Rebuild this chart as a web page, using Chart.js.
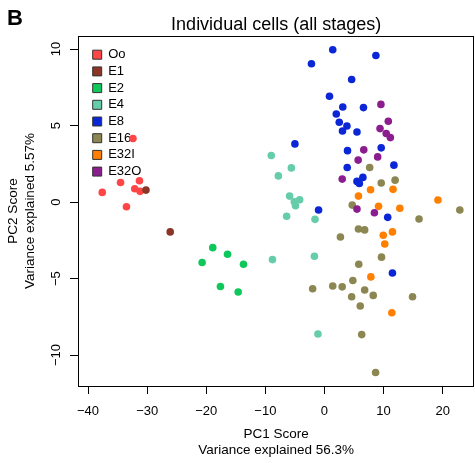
<!DOCTYPE html>
<html><head><meta charset="utf-8">
<script src="https://cdn.jsdelivr.net/npm/chart.js@4/dist/chart.umd.min.js"></script>
<style>html,body{margin:0;padding:0;background:#fff}canvas{display:block}</style>
</head><body>
<canvas id="c" width="475" height="463"></canvas>
<script>
// ---- data (PC1, PC2 scores per stage) ----
const stages = ['Oo', 'E1', 'E2', 'E4', 'E8', 'E16', 'E32I', 'E32O'];

const ooPC1 = [-37.6, -34.5, -31.3, -32.1, -31.2, -33.5, -32.4];
const ooPC2 = [0.63, 1.28, 1.39, 0.87, 0.70, -0.31, 4.15];

const e1PC1 = [-30.2, -26.1];
const e1PC2 = [0.78, -1.95];

const e2PC1 = [-18.9, -16.4, -20.7, -13.7, -17.6, -14.6];
const e2PC2 = [-2.98, -3.41, -3.95, -4.06, -5.52, -5.88];

const e4PC1 = [-9.0, -5.6, -7.8, -5.9, -5.1, -4.2, -4.9, -6.4, -1.6, -8.8, -1.7, -1.1];
const e4PC2 = [3.04, 2.23, 1.71, 0.39, 0.02, 0.15, -0.24, -0.93, -1.13, -3.76, -3.54, -8.62];

const e8PC1 = [1.4, 8.7, -2.2, 4.6, 0.85, 3.1, 6.6, 2.0, 2.5, 3.8, 3.05, 5.5, -5.0, 9.6, 3.9, 3.85, 11.75, 6.5, 5.5, 5.9, -1.0, 10.7, 11.5];
const e8PC2 = [9.95, 9.58, 9.04, 8.01, 6.91, 6.21, 6.17, 5.75, 5.21, 4.97, 4.64, 4.58, 3.80, 3.54, 3.36, 2.26, 2.41, 1.61, 1.35, 1.22, -0.52, -1.00, -4.64];

const e16PC1 = [7.65, 11.95, 9.6, 4.7, 22.9, 16.0, 5.75, 6.8, 2.7, 9.65, 5.8, 4.8, -2.0, 1.4, 3.0, 6.8, 4.6, 8.25, 14.9, 6.05, 6.3, 8.65];
const e16PC2 = [2.26, 1.43, 1.24, -0.20, -0.52, -1.11, -1.76, -1.82, -2.28, -3.60, -4.06, -5.13, -5.67, -5.49, -5.54, -5.75, -6.19, -6.10, -6.19, -6.79, -8.66, -11.14];

const e32iPC1 = [7.8, 11.6, 5.75, 19.2, 9.15, 12.75, 11.5, 9.95, 10.2, 7.85, 11.4];
const e32iPC2 = [0.80, 0.83, 0.39, 0.13, -0.28, -0.41, -1.95, -2.17, -2.74, -4.89, -7.23];

const e32oPC1 = [9.55, 10.8, 9.4, 10.45, 11.15, 6.65, 9.0, 5.7, 3.0, 5.5, 8.45];
const e32oPC2 = [6.38, 5.28, 4.80, 4.48, 4.21, 3.41, 2.95, 2.74, 1.50, -0.46, -0.70];

const xTicks = [-40, -30, -20, -10, 0, 10, 20];
const yTicks = [-10, -5, 0, 5, 10];

const chartTitle = 'Individual cells (all stages)';
const panelLetter = 'B';

// ---- styling ----
const stageColors = ['#FF4545', '#8B3526', '#0FC85C', '#66CDAA', '#0A26D6', '#8C8752', '#FF7F00', '#8B1D8E'];
const FONT = "'Liberation Sans', Arial, Helvetica, sans-serif";

const seriesX = [ooPC1, e1PC1, e2PC1, e4PC1, e8PC1, e16PC1, e32iPC1, e32oPC1];
const seriesY = [ooPC2, e1PC2, e2PC2, e4PC2, e8PC2, e16PC2, e32iPC2, e32oPC2];

const datasets = stages.map((name, i) => ({
  label: name,
  data: seriesX[i].map((x, k) => ({x: x, y: seriesY[i][k]})),
  backgroundColor: stageColors[i],
  borderColor: stageColors[i],
  borderWidth: 0,
  pointRadius: 3.8,
  pointHoverRadius: 3.8,
  order: -i
}));

const minus = v => String(v).replace('-', '\u2212');

const boxPlugin = {
  id: 'boxPlugin',
  afterLayout(chart) {
    const lg = chart.legend;
    const a = chart.chartArea;
    if (lg) {
      const w = lg.right - lg.left, h = lg.bottom - lg.top;
      lg.left = a.left + 11; lg.right = lg.left + w;
      lg.top = a.top + 8.5; lg.bottom = lg.top + h;
    }
  },
  afterDatasetsDraw(chart) {
    const {ctx, chartArea: a} = chart;
    ctx.save();
    ctx.strokeStyle = '#000';
    ctx.lineWidth = 1;
    ctx.strokeRect(Math.round(a.left) + 0.5, Math.round(a.top) + 0.5, Math.round(a.right - a.left) - 1, Math.round(a.bottom - a.top));
    ctx.restore();
  },
  afterDraw(chart) {
    const ctx = chart.ctx;
    const a = chart.chartArea;
    ctx.save();
    ctx.fillStyle = '#000';
    ctx.textBaseline = 'alphabetic';
    ctx.font = 'bold 22px ' + FONT;
    ctx.textAlign = 'left';
    ctx.fillText(panelLetter, 7, 25);
    ctx.font = '18px ' + FONT;
    ctx.textAlign = 'center';
    ctx.fillText(chartTitle, (a.left + a.right) / 2, 29.5);
    ctx.restore();
  }
};

new Chart(document.getElementById('c'), {
  type: 'scatter',
  data: {datasets: datasets},
  plugins: [boxPlugin],
  options: {
    responsive: false,
    animation: false,
    devicePixelRatio: 1,
    layout: {autoPadding: false, padding: {left: 0, right: 0.7, top: 36, bottom: 0}},
    plugins: {
      tooltip: {enabled: false},
      title: {display: false},
      legend: {
        position: 'chartArea',
        align: 'start',
        labels: {
          boxWidth: 9,
          boxHeight: 9,
          padding: 3.7,
          color: '#000',
          font: {family: FONT, size: 13},
          generateLabels: chart => chart.data.datasets.map((d, i) => ({
            text: d.label,
            fillStyle: d.backgroundColor,
            strokeStyle: '#333',
            lineWidth: 1,
            hidden: false,
            datasetIndex: i
          }))
        }
      }
    },
    scales: {
      x: {
        type: 'linear',
        position: 'bottom',
        min: -41.7,
        max: 25.35,
        afterBuildTicks: s => { s.ticks = xTicks.map(v => ({value: v})); },
        afterFit: s => { s.height = 77; s.paddingLeft = 0; s.paddingRight = 0; },
        border: {display: false},
        grid: {display: true, drawOnChartArea: false, drawTicks: true, tickLength: 8, color: '#000', lineWidth: 1},
        ticks: {color: '#000', font: {family: FONT, size: 13}, padding: 10, maxRotation: 0, autoSkip: false, callback: v => minus(v)},
        title: {display: true, text: ['PC1 Score', 'Variance explained 56.3%'], color: '#000', font: {family: FONT, size: 13.5}, padding: {top: 0, bottom: 4.5}}
      },
      y: {
        type: 'linear',
        position: 'left',
        min: -12.02,
        max: 10.85,
        afterBuildTicks: s => { s.ticks = yTicks.map(v => ({value: v})); },
        afterFit: s => { s.width = 78; s.paddingTop = 0; s.paddingBottom = 0; },
        border: {display: false},
        grid: {display: true, drawOnChartArea: false, drawTicks: true, tickLength: 8, color: '#000', lineWidth: 1},
        ticks: {color: '#000', font: {family: FONT, size: 13}, padding: 3, minRotation: 90, maxRotation: 90, crossAlign: 'center', autoSkip: false, callback: v => minus(v)},
        title: {display: true, text: ['PC2 Score', 'Variance explained 5.57%'], color: '#000', font: {family: FONT, size: 13.5}, padding: {top: 5.5, bottom: 0}}
      }
    }
  }
});
</script>
</body></html>
